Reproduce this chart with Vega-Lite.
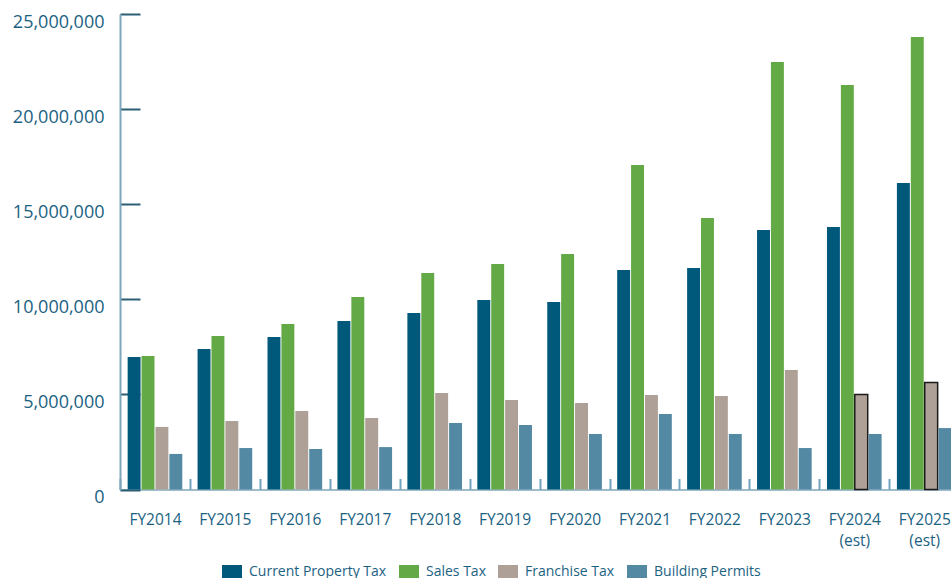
{
  "$schema": "https://vega.github.io/schema/vega-lite/v6.json",
  "width": 831,
  "height": 475.5,
  "autosize": {"type": "none"},
  "padding": {"left": 120, "top": 14, "right": 0, "bottom": 88.5},
  "config": {"view": {"stroke": null}, "font": "Open Sans"},
  "datasets": {
    "rev": [
      {"year": "FY2014", "type": "Current Property Tax", "value": 6970000},
      {"year": "FY2014", "type": "Sales Tax", "value": 7020000},
      {"year": "FY2014", "type": "Franchise Tax", "value": 3290000},
      {"year": "FY2014", "type": "Building Permits", "value": 1870000},
      {"year": "FY2015", "type": "Current Property Tax", "value": 7390000},
      {"year": "FY2015", "type": "Sales Tax", "value": 8070000},
      {"year": "FY2015", "type": "Franchise Tax", "value": 3600000},
      {"year": "FY2015", "type": "Building Permits", "value": 2180000},
      {"year": "FY2016", "type": "Current Property Tax", "value": 8020000},
      {"year": "FY2016", "type": "Sales Tax", "value": 8700000},
      {"year": "FY2016", "type": "Franchise Tax", "value": 4130000},
      {"year": "FY2016", "type": "Building Permits", "value": 2130000},
      {"year": "FY2017", "type": "Current Property Tax", "value": 8860000},
      {"year": "FY2017", "type": "Sales Tax", "value": 10120000},
      {"year": "FY2017", "type": "Franchise Tax", "value": 3760000},
      {"year": "FY2017", "type": "Building Permits", "value": 2230000},
      {"year": "FY2018", "type": "Current Property Tax", "value": 9280000},
      {"year": "FY2018", "type": "Sales Tax", "value": 11380000},
      {"year": "FY2018", "type": "Franchise Tax", "value": 5070000},
      {"year": "FY2018", "type": "Building Permits", "value": 3500000},
      {"year": "FY2019", "type": "Current Property Tax", "value": 9960000},
      {"year": "FY2019", "type": "Sales Tax", "value": 11860000},
      {"year": "FY2019", "type": "Franchise Tax", "value": 4710000},
      {"year": "FY2019", "type": "Building Permits", "value": 3390000},
      {"year": "FY2020", "type": "Current Property Tax", "value": 9860000},
      {"year": "FY2020", "type": "Sales Tax", "value": 12380000},
      {"year": "FY2020", "type": "Franchise Tax", "value": 4550000},
      {"year": "FY2020", "type": "Building Permits", "value": 2920000},
      {"year": "FY2021", "type": "Current Property Tax", "value": 11540000},
      {"year": "FY2021", "type": "Sales Tax", "value": 17060000},
      {"year": "FY2021", "type": "Franchise Tax", "value": 4970000},
      {"year": "FY2021", "type": "Building Permits", "value": 3970000},
      {"year": "FY2022", "type": "Current Property Tax", "value": 11650000},
      {"year": "FY2022", "type": "Sales Tax", "value": 14270000},
      {"year": "FY2022", "type": "Franchise Tax", "value": 4920000},
      {"year": "FY2022", "type": "Building Permits", "value": 2920000},
      {"year": "FY2023", "type": "Current Property Tax", "value": 13640000},
      {"year": "FY2023", "type": "Sales Tax", "value": 22480000},
      {"year": "FY2023", "type": "Franchise Tax", "value": 6280000},
      {"year": "FY2023", "type": "Building Permits", "value": 2180000},
      {"year": "FY2024 (est)", "type": "Current Property Tax", "value": 13800000},
      {"year": "FY2024 (est)", "type": "Sales Tax", "value": 21270000},
      {"year": "FY2024 (est)", "type": "Franchise Tax", "value": 5000000},
      {"year": "FY2024 (est)", "type": "Building Permits", "value": 2920000},
      {"year": "FY2025 (est)", "type": "Current Property Tax", "value": 16110000},
      {"year": "FY2025 (est)", "type": "Sales Tax", "value": 23790000},
      {"year": "FY2025 (est)", "type": "Franchise Tax", "value": 5620000},
      {"year": "FY2025 (est)", "type": "Building Permits", "value": 3230000}
    ]
  },
  "data": {"name": "rev"},
  "mark": {"type": "bar", "strokeWidth": 1.5},
  "encoding": {
    "x": {
      "field": "year",
      "type": "nominal",
      "sort": null,
      "scale": {"range": [0, 839.2], "paddingInner": 0, "paddingOuter": 0},
      "axis": {
        "title": null,
        "labelAngle": 0,
        "labelExpr": "split(datum.label, ' ')",
        "tickBand": "extent",
        "tickSize": -11,
        "tickColor": "#6FA3BF",
        "tickWidth": 2,
        "domainColor": "#7EA6BB",
        "domainWidth": 1.5,
        "labelPadding": 34,
        "labelBaseline": "top",
        "labelFont": "Open Sans",
        "labelFontSize": 15.5,
        "labelColor": "#1B6282",
        "labelLineHeight": 21
      }
    },
    "xOffset": {
      "field": "type",
      "type": "nominal",
      "sort": ["Current Property Tax", "Sales Tax", "Franchise Tax", "Building Permits"],
      "scale": {"paddingInner": 0.07, "paddingOuter": 0.55}
    },
    "y": {
      "field": "value",
      "type": "quantitative",
      "scale": {"domain": [0, 25000000], "nice": false},
      "axis": {
        "title": null,
        "grid": false,
        "values": [0, 5000000, 10000000, 15000000, 20000000, 25000000],
        "format": ",d",
        "tickSize": -20,
        "tickColor": "#2B5D74",
        "tickWidth": 2,
        "domainColor": "#7EA6BB",
        "domainWidth": 2,
        "labelPadding": 36,
        "labelOffset": 8,
        "labelFont": "Open Sans",
        "labelFontSize": 18,
        "labelColor": "#1B6282"
      }
    },
    "color": {
      "field": "type",
      "type": "nominal",
      "scale": {
        "domain": ["Current Property Tax", "Sales Tax", "Franchise Tax", "Building Permits"],
        "range": ["#00587A", "#63A945", "#AEA096", "#5489A4"]
      },
      "legend": {
        "title": null,
        "orient": "none",
        "direction": "horizontal",
        "legendX": 102,
        "legendY": 548,
        "symbolType": "M-1,-0.7H1V0.7H-1Z",
        "symbolSize": 400,
        "symbolStrokeWidth": 0,
        "symbolOpacity": 1,
        "labelFont": "Open Sans",
        "labelFontSize": 14,
        "labelColor": "#1B6282",
        "labelOffset": 7,
        "columnPadding": 12
      }
    },
    "stroke": {
      "condition": {"test": "datum.type === 'Franchise Tax' && indexof(datum.year, 'est') >= 0", "value": "#1a1a1a"},
      "value": null
    }
  }
}
